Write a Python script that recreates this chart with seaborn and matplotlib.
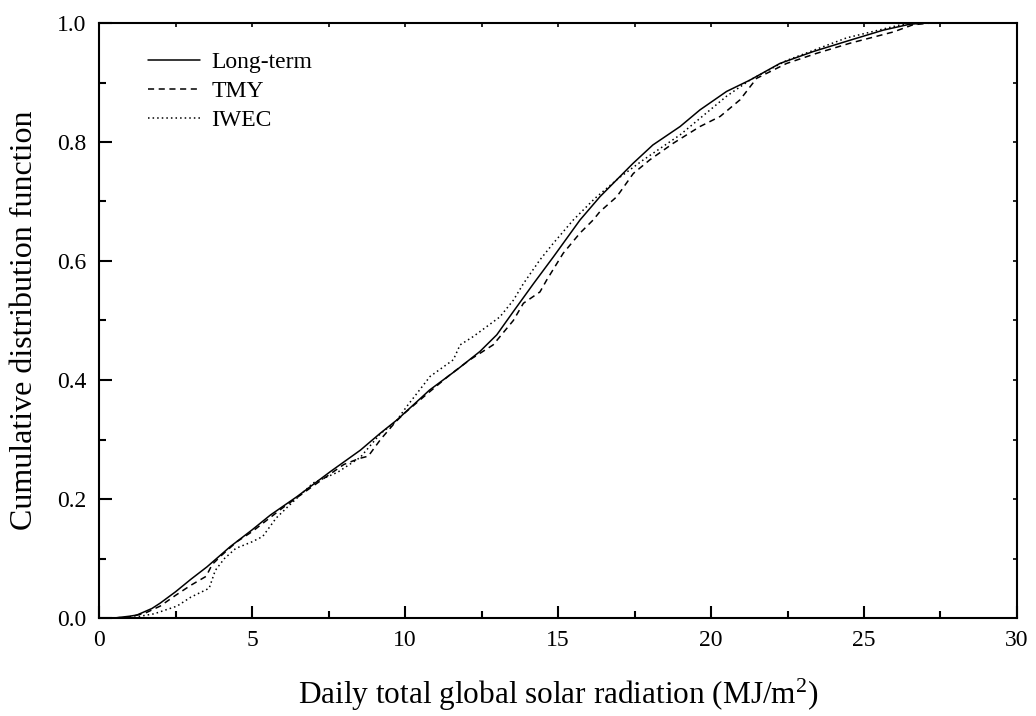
import matplotlib
matplotlib.use("Agg")
import matplotlib.pyplot as plt
from matplotlib.ticker import MultipleLocator
import seaborn as sns
import pandas as pd

# ---- data ----
lt_x = [0.0, 0.5, 1.0, 1.24, 1.73, 2.0, 2.5, 3.0, 3.53, 4.29, 5.0, 5.6, 6.47, 7.56, 8.54,
        9.18, 9.74, 10.8, 11.69, 12.45, 13.0, 13.54, 14.2, 14.85, 15.72, 16.37, 17.45,
        18.1, 18.99, 19.64, 20.51, 21.27, 22.25, 23.34, 24.54, 25.63, 26.5, 27.0]
lt_y = [0.0, 0.0, 0.003, 0.005, 0.016, 0.025, 0.044, 0.065, 0.086, 0.12, 0.148, 0.173,
        0.204, 0.246, 0.282, 0.31, 0.333, 0.383, 0.417, 0.448, 0.476, 0.515, 0.562, 0.607,
        0.669, 0.708, 0.764, 0.795, 0.826, 0.854, 0.885, 0.904, 0.932, 0.952, 0.971,
        0.988, 0.998, 1.0]

tmy_x = [0.5, 1.0, 1.5, 2.0, 2.5, 3.0, 3.3, 3.5, 3.7, 4.0, 4.5, 5.0, 6.0, 7.0, 8.0, 8.5,
         8.8, 9.2, 9.7, 10.0, 10.8, 11.5, 12.12, 12.88, 13.54, 13.87, 14.41, 14.63, 15.17,
         15.72, 16.15, 16.37, 16.92, 17.46, 18.0, 18.77, 19.64, 20.3, 20.95, 21.49, 22.47,
         23.45, 24.54, 25.96, 26.6, 27.2]
tmy_y = [0.0, 0.002, 0.008, 0.02, 0.038, 0.055, 0.064, 0.07, 0.09, 0.105, 0.128, 0.145,
         0.185, 0.222, 0.258, 0.268, 0.272, 0.3, 0.33, 0.345, 0.38, 0.41, 0.434, 0.459,
         0.5, 0.529, 0.548, 0.568, 0.613, 0.647, 0.669, 0.683, 0.708, 0.747, 0.77, 0.798,
         0.826, 0.843, 0.871, 0.907, 0.932, 0.949, 0.966, 0.985, 0.997, 1.0]

iwec_x = [1.0, 1.8, 2.55, 3.0, 3.6, 3.8, 4.1, 4.47, 5.0, 5.35, 5.79, 6.23, 7.0, 7.8, 8.54,
          9.2, 9.7, 10.05, 10.82, 11.58, 11.8, 12.23, 13.1, 13.54, 13.87, 14.41, 14.85,
          15.5, 16.2, 17.0, 17.79, 18.99, 20.51, 21.27, 22.47, 24.43, 26.2, 27.0]
iwec_y = [0.0, 0.007, 0.02, 0.035, 0.05, 0.08, 0.10, 0.117, 0.128, 0.137, 0.168, 0.19,
          0.227, 0.245, 0.27, 0.31, 0.33, 0.355, 0.406, 0.434, 0.459, 0.473, 0.506, 0.534,
          0.562, 0.602, 0.63, 0.669, 0.705, 0.74, 0.77, 0.812, 0.877, 0.904, 0.937, 0.975,
          0.997, 1.0]

series_names = ["Long-term", "TMY", "IWEC"]
x_ticks = [0, 5, 10, 15, 20, 25, 30]
y_ticks = [0.0, 0.2, 0.4, 0.6, 0.8, 1.0]

df = pd.concat([
    pd.DataFrame({"x": lt_x, "y": lt_y, "series": series_names[0]}),
    pd.DataFrame({"x": tmy_x, "y": tmy_y, "series": series_names[1]}),
    pd.DataFrame({"x": iwec_x, "y": iwec_y, "series": series_names[2]}),
], ignore_index=True)

sns.set_theme(style="ticks")
plt.rcParams["font.family"] = ["Liberation Serif", "DejaVu Serif"]
plt.rcParams["mathtext.fontset"] = "custom"
plt.rcParams["mathtext.rm"] = "Liberation Serif"
plt.rcParams["mathtext.it"] = "Liberation Serif:italic"
plt.rcParams["text.color"] = "black"
plt.rcParams["axes.labelcolor"] = "black"
plt.rcParams["xtick.color"] = "black"
plt.rcParams["ytick.color"] = "black"

fig = plt.figure(figsize=(10.36, 7.16), dpi=100)
ax = fig.add_axes([99 / 1036, 1 - 618 / 716, (1017 - 99) / 1036, (618 - 23) / 716])

styles = {"Long-term": "-", "TMY": (0, (4, 3)), "IWEC": (0, (1, 2))}
for name in series_names:
    sub = df[df["series"] == name]
    sns.lineplot(data=sub, x="x", y="y", ax=ax, color="black", lw=1.1,
                 linestyle=styles[name], estimator=None, sort=True, label=name)

ax.set_xlim(0, 30)
ax.set_ylim(0, 1.0)
ax.set_xticks(x_ticks)
ax.set_yticks(y_ticks)
ax.set_xticklabels([str(t) for t in x_ticks])
ax.set_yticklabels([f"{t:.1f}" for t in y_ticks])
ax.xaxis.set_minor_locator(MultipleLocator(2.5))
ax.yaxis.set_minor_locator(MultipleLocator(0.1))
ax.tick_params(which="major", direction="in", length=9, width=1.5, labelsize=17, pad=9,
               color="black", labelcolor="black")
ax.tick_params(which="minor", direction="in", length=5, width=1.5, color="black")
for sp in ax.spines.values():
    sp.set_linewidth(1.5)
    sp.set_color("black")

# short mirrored ticks on top and right
top = ax.secondary_xaxis("top")
top.set_xticks(x_ticks)
top.xaxis.set_minor_locator(MultipleLocator(2.5))
top.tick_params(which="both", direction="in", length=3, width=1.2, labeltop=False)
top.set_xticklabels([])
right = ax.secondary_yaxis("right")
right.set_yticks(y_ticks)
right.yaxis.set_minor_locator(MultipleLocator(0.1))
right.tick_params(which="both", direction="in", length=3, width=1.2, labelright=False)
right.set_yticklabels([])

ax.set_xlabel("Daily total global solar radiation (MJ/m$^2$)", fontsize=22.5, labelpad=18,
              color="black")
ax.set_ylabel("Cumulative distribution function", fontsize=23, labelpad=13, color="black")

leg = ax.legend(loc="upper left", bbox_to_anchor=(0.053, 0.952), frameon=False, fontsize=17,
                handlelength=2.2, handletextpad=0.5, labelspacing=0.32, borderpad=0,
                borderaxespad=0)
for t in leg.get_texts():
    t.set_color("black")

fig.savefig("out.png", dpi=100)
